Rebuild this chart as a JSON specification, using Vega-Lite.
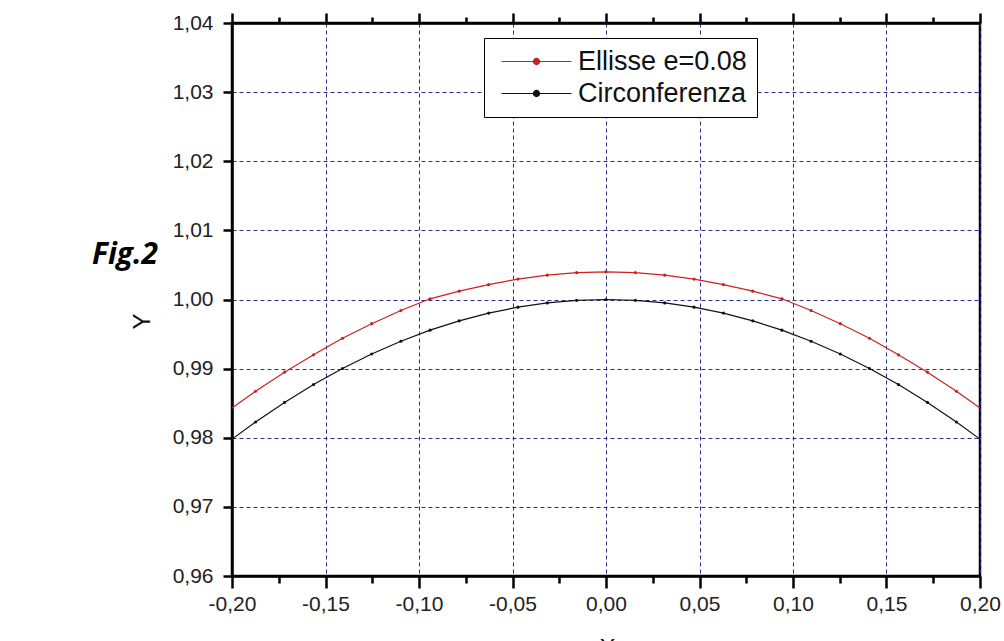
{
  "$schema": "https://vega.github.io/schema/vega-lite/v6.json",
  "width": 748,
  "height": 553,
  "autosize": {"type": "none"},
  "padding": {"left": 232, "top": 23, "right": 24, "bottom": 65},
  "background": "white",
  "config": {
    "view": {"stroke": "black", "strokeWidth": 2.5},
    "font": "Liberation Sans"
  },
  "title": {
    "text": "Fig.2",
    "orient": "top",
    "anchor": "start",
    "frame": "group",
    "font": "Open Sans",
    "fontSize": 30,
    "fontStyle": "italic",
    "fontWeight": "bold",
    "color": "black",
    "baseline": "middle",
    "align": "left",
    "offset": 0,
    "dx": -140,
    "dy": 273
  },
  "data": {
    "values": [
      {"x": -0.2, "y": 0.9798, "s": "Circonferenza"},
      {"x": -0.1874, "y": 0.98228, "s": "Circonferenza"},
      {"x": -0.1719, "y": 0.98511, "s": "Circonferenza"},
      {"x": -0.1564, "y": 0.98769, "s": "Circonferenza"},
      {"x": -0.1409, "y": 0.99002, "s": "Circonferenza"},
      {"x": -0.1253, "y": 0.99212, "s": "Circonferenza"},
      {"x": -0.1097, "y": 0.99396, "s": "Circonferenza"},
      {"x": -0.0941, "y": 0.99556, "s": "Circonferenza"},
      {"x": -0.0785, "y": 0.99691, "s": "Circonferenza"},
      {"x": -0.0628, "y": 0.99803, "s": "Circonferenza"},
      {"x": -0.0471, "y": 0.99889, "s": "Circonferenza"},
      {"x": -0.0314, "y": 0.99951, "s": "Circonferenza"},
      {"x": -0.0157, "y": 0.99988, "s": "Circonferenza"},
      {"x": 0, "y": 1.0, "s": "Circonferenza"},
      {"x": 0.0157, "y": 0.99988, "s": "Circonferenza"},
      {"x": 0.0314, "y": 0.99951, "s": "Circonferenza"},
      {"x": 0.0471, "y": 0.99889, "s": "Circonferenza"},
      {"x": 0.0628, "y": 0.99803, "s": "Circonferenza"},
      {"x": 0.0785, "y": 0.99691, "s": "Circonferenza"},
      {"x": 0.0941, "y": 0.99556, "s": "Circonferenza"},
      {"x": 0.1097, "y": 0.99396, "s": "Circonferenza"},
      {"x": 0.1253, "y": 0.99212, "s": "Circonferenza"},
      {"x": 0.1409, "y": 0.99002, "s": "Circonferenza"},
      {"x": 0.1564, "y": 0.98769, "s": "Circonferenza"},
      {"x": 0.1719, "y": 0.98511, "s": "Circonferenza"},
      {"x": 0.1874, "y": 0.98228, "s": "Circonferenza"},
      {"x": 0.2, "y": 0.9798, "s": "Circonferenza"},
      {"x": -0.2, "y": 0.9843, "s": "Ellisse e=0.08"},
      {"x": -0.1874, "y": 0.98673, "s": "Ellisse e=0.08"},
      {"x": -0.1719, "y": 0.98949, "s": "Ellisse e=0.08"},
      {"x": -0.1564, "y": 0.992, "s": "Ellisse e=0.08"},
      {"x": -0.1409, "y": 0.9944, "s": "Ellisse e=0.08"},
      {"x": -0.1253, "y": 0.9965, "s": "Ellisse e=0.08"},
      {"x": -0.1097, "y": 0.9984, "s": "Ellisse e=0.08"},
      {"x": -0.0941, "y": 1.0001, "s": "Ellisse e=0.08"},
      {"x": -0.0785, "y": 1.0012, "s": "Ellisse e=0.08"},
      {"x": -0.0628, "y": 1.00215, "s": "Ellisse e=0.08"},
      {"x": -0.0471, "y": 1.00295, "s": "Ellisse e=0.08"},
      {"x": -0.0314, "y": 1.00352, "s": "Ellisse e=0.08"},
      {"x": -0.0157, "y": 1.00388, "s": "Ellisse e=0.08"},
      {"x": 0, "y": 1.004, "s": "Ellisse e=0.08"},
      {"x": 0.0157, "y": 1.00388, "s": "Ellisse e=0.08"},
      {"x": 0.0314, "y": 1.00352, "s": "Ellisse e=0.08"},
      {"x": 0.0471, "y": 1.00295, "s": "Ellisse e=0.08"},
      {"x": 0.0628, "y": 1.00215, "s": "Ellisse e=0.08"},
      {"x": 0.0785, "y": 1.0012, "s": "Ellisse e=0.08"},
      {"x": 0.0941, "y": 1.0001, "s": "Ellisse e=0.08"},
      {"x": 0.1097, "y": 0.9984, "s": "Ellisse e=0.08"},
      {"x": 0.1253, "y": 0.9965, "s": "Ellisse e=0.08"},
      {"x": 0.1409, "y": 0.9944, "s": "Ellisse e=0.08"},
      {"x": 0.1564, "y": 0.992, "s": "Ellisse e=0.08"},
      {"x": 0.1719, "y": 0.98949, "s": "Ellisse e=0.08"},
      {"x": 0.1874, "y": 0.98673, "s": "Ellisse e=0.08"},
      {"x": 0.2, "y": 0.9843, "s": "Ellisse e=0.08"}
    ]
  },
  "layer": [
    {
      "mark": {"type": "line", "strokeWidth": 1.2, "clip": true},
      "encoding": {
        "x": {
          "field": "x",
          "type": "quantitative",
          "scale": {"domain": [-0.2, 0.2], "nice": false, "zero": false},
          "axis": {
            "orient": "bottom",
            "values": [-0.2, -0.175, -0.15, -0.125, -0.1, -0.075, -0.05, -0.025, 0, 0.025, 0.05, 0.075, 0.1, 0.125, 0.15, 0.175, 0.2],
            "labelExpr": "round(datum.value*1000) % 50 == 0 ? (datum.value < -0.0001 ? '-' : '') + replace(format(abs(datum.value), '.2f'), '.', ',') : ''",
            "tickSize": {"condition": {"test": "round(datum.value*1000) % 50 == 0", "value": 12}, "value": 7},
            "tickWidth": 2.5,
            "tickColor": "black",
            "domainColor": "black",
            "domainWidth": 2.5,
            "labelFontSize": 21,
            "labelColor": "#222",
            "labelPadding": 5,
            "labelFlush": false,
            "labelOverlap": false,
            "grid": true,
            "gridColor": "#2e2e8f",
            "gridDash": [4, 3],
            "gridWidth": 1,
            "gridOpacity": {"condition": {"test": "round(datum.value*1000) % 50 == 0", "value": 1}, "value": 0},
            "title": "X",
            "titleFontSize": 24,
            "titleFontWeight": "normal",
            "titleColor": "#111",
            "titleX": 375,
            "titleY": 60,
            "titleBaseline": "top",
            "titleAlign": "center"
          }
        },
        "y": {
          "field": "y",
          "type": "quantitative",
          "scale": {"domain": [0.96, 1.04], "nice": false, "zero": false},
          "axis": {
            "orient": "left",
            "values": [0.96, 0.97, 0.98, 0.99, 1.0, 1.01, 1.02, 1.03, 1.04],
            "labelExpr": "replace(format(datum.value, '.2f'), '.', ',')",
            "tickSize": 9,
            "tickWidth": 2.5,
            "tickColor": "black",
            "domainColor": "black",
            "domainWidth": 2.5,
            "labelFontSize": 21,
            "labelColor": "#222",
            "labelPadding": 10,
            "labelFlush": false,
            "labelOverlap": false,
            "grid": true,
            "gridColor": "#2e2e8f",
            "gridDash": [4, 3],
            "gridWidth": 1,
            "title": "Y",
            "titleFontSize": 24,
            "titleFontWeight": "normal",
            "titleColor": "#111",
            "titleX": -90,
            "titleY": 298,
            "titleBaseline": "middle",
            "titleAlign": "center"
          }
        },
        "color": {
          "field": "s",
          "type": "nominal",
          "scale": {"domain": ["Ellisse e=0.08", "Circonferenza"], "range": ["#cc2020", "#111111"]},
          "legend": {
            "orient": "none",
            "legendX": 252,
            "legendY": 15,
            "title": null,
            "strokeColor": "black",
            "fillColor": "white",
            "padding": 10,
            "symbolOffset": 29,
            "labelFontSize": 27,
            "labelFont": "Liberation Sans",
            "labelColor": "#111",
            "labelLimit": 400,
            "labelOffset": 28,
            "rowPadding": 4,
            "symbolType": "M-4,0L4,0M0.35,0A0.35,0.35,0,1,1,-0.35,0A0.35,0.35,0,1,1,0.35,0Z",
            "symbolSize": 306,
            "symbolStrokeWidth": 1.2,
            "encode": {
              "symbols": {
                "update": {
                  "fill": {"scale": "color", "field": "value"},
                  "stroke": {"scale": "color", "field": "value"}
                }
              }
            }
          }
        }
      }
    },
    {
      "transform": [{"filter": "abs(datum.x) < 0.199"}],
      "mark": {"type": "point", "filled": true, "size": 10, "opacity": 1},
      "encoding": {
        "x": {
          "field": "x",
          "type": "quantitative",
          "scale": {"domain": [-0.2, 0.2], "nice": false, "zero": false},
          "axis": {
            "orient": "top",
            "values": [-0.2, -0.175, -0.15, -0.125, -0.1, -0.075, -0.05, -0.025, 0, 0.025, 0.05, 0.075, 0.1, 0.125, 0.15, 0.175, 0.2],
            "labels": false,
            "grid": false,
            "tickSize": {"condition": {"test": "round(datum.value*1000) % 50 == 0", "value": 10}, "value": 6},
            "tickWidth": 2.5,
            "tickColor": "black",
            "domainColor": "black",
            "domainWidth": 2.5,
            "title": null
          }
        },
        "y": {"field": "y", "type": "quantitative"},
        "color": {"field": "s", "type": "nominal", "legend": null}
      }
    }
  ],
  "resolve": {"axis": {"x": "independent"}}
}
